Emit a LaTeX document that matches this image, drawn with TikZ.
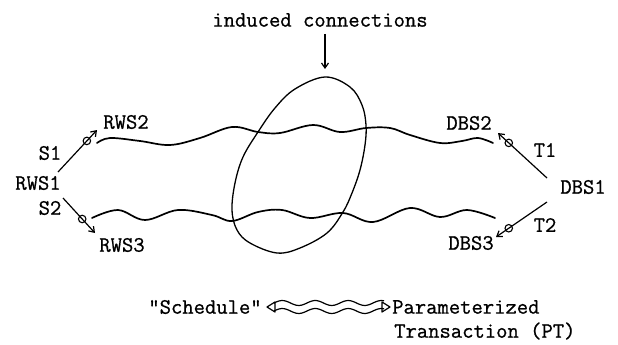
\documentclass[tikz,border=0pt]{standalone}
\usepackage{fontspec}
\setmonofont{Latin Modern Mono}[FakeBold=0.8]
\usetikzlibrary{arrows.meta,calc}
\begin{document}
\begin{tikzpicture}[x=1pt,y=-1pt,
  lbl/.style={font=\ttfamily\fontsize{22}{27}\selectfont, inner sep=0pt},
  wave/.style={line width=1.7pt, line cap=round, line join=round},
  ptr/.style={line width=1.2pt, -{Straight Barb[length=5pt,width=7pt]}},
  ring/.style={circle, draw, line width=1.1pt, minimum size=7.5pt, inner sep=0pt},
  loop/.style={line width=1.3pt},
  legendwave/.style={line width=1.2pt}]
\useasboundingbox (0,0) rectangle (618,345);

% labels
\node[lbl] (ind)  at (320,20)  {induced connections};
\node[lbl] (rws2) at (126,122) {RWS2};
\node[lbl] (s1)   at (50,153)  {S1};
\node[lbl] (rws1) at (38,183)  {RWS1};
\node[lbl] (s2)   at (50,208)  {S2};
\node[lbl] (rws3) at (122,245) {RWS3};
\node[lbl] (dbs2) at (469,123) {DBS2};
\node[lbl] (t1)   at (545,150) {T1};
\node[lbl] (dbs1) at (583,187) {DBS1};
\node[lbl] (t2)   at (545,225) {T2};
\node[lbl] (dbs3) at (471,243) {DBS3};

% arrow pointing at the loop
\coordinate (indtail) at (325,34);
\coordinate (indtip) at (325,69);
\draw[ptr] (indtail) -- (indtip);

% transaction arrows with their rings
\coordinate (a1s) at (58,172);  \coordinate (a1e) at (97,130);
\coordinate (a2s) at (63,198);  \coordinate (a2e) at (95,233);
\coordinate (b1s) at (547,178); \coordinate (b1e) at (498,133);
\coordinate (b2s) at (547,202); \coordinate (b2e) at (496,237);
\draw[ptr] (a1s) -- (a1e);
\draw[ptr] (a2s) -- (a2e);
\draw[ptr] (b1s) -- (b1e);
\draw[ptr] (b2s) -- (b2e);
\node[ring] (r1) at ($(a1s)!0.74!(a1e)$) {};
\node[ring] (r2) at ($(a2s)!0.60!(a2e)$) {};
\node[ring] (r3) at ($(b1s)!0.78!(b1e)$) {};
\node[ring] (r4) at ($(b2s)!0.75!(b2e)$) {};

% upper and lower wavy connections
\draw[wave] plot[smooth, tension=0.6] coordinates {
  (97,143) (110,138) (140,141) (170,145) (200,138) (232,127) (258,132)
  (280,133) (313,125) (340,132) (366,128) (390,128) (410,135) (440,143)
  (462,141) (478,138) (493,143)};
\draw[wave] plot[smooth, tension=0.6] coordinates {
  (92,218) (118,210) (145,220) (178,210) (212,215) (232,221) (258,212)
  (282,210) (310,218) (343,213) (373,222) (410,208) (440,217) (467,210)
  (495,218)};

% loop of induced connections
\draw[loop] plot[smooth cycle, tension=0.6] coordinates {
  (325,77) (350,87) (362,105) (366,125) (365,145) (360,170) (352,193)
  (343,212) (327,233) (300,248) (277,253) (250,243) (237,230) (232,210)
  (235,183) (243,157) (258,132) (275,108) (295,89)};

% legend
\node[lbl] (sched) at (205,307) {"Schedule"};
\node[lbl, anchor=west] (pt1) at (392,307) {Parameterized};
\node[lbl, anchor=west] (pt2) at (394,331) {Transaction (PT)};
\coordinate (ll) at (267,307);
\coordinate (rr) at (390,307);
\draw[legendwave] plot[smooth, domain=0:110, samples=45]
  ({274+\x},{303-2.5*sin(\x*10.909)});
\draw[legendwave] plot[smooth, domain=0:110, samples=45]
  ({274+\x},{311-2.5*sin(\x*10.909)});
\draw[legendwave, line join=round] (ll) -- ++(8,-5) -- ++(0,10) -- cycle;
\draw[legendwave, line join=round] (rr) -- ++(-8,-5) -- ++(0,10) -- cycle;
\end{tikzpicture}
\end{document}
